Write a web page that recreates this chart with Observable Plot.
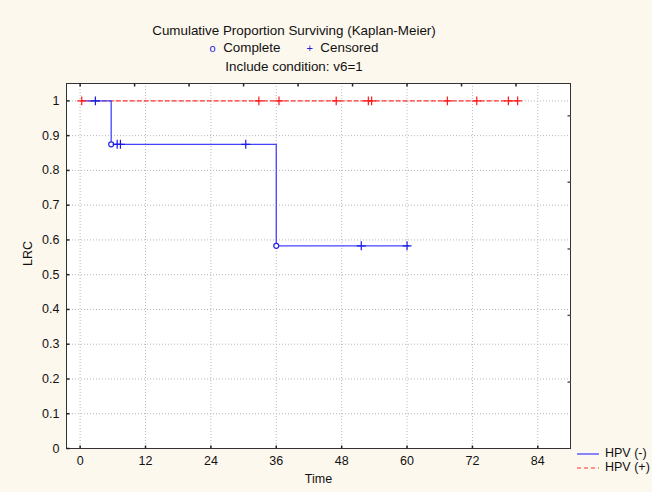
<!DOCTYPE html>
<html><head><meta charset="utf-8">
<script src="https://cdn.jsdelivr.net/npm/d3@7"></script>
<script src="https://cdn.jsdelivr.net/npm/@observablehq/plot@0.6"></script>
<style>
body{margin:0;background:#fdf8ee;font-family:Arial,"Liberation Sans",sans-serif;color:#111}
#wrap{position:relative;width:652px;height:492px;overflow:hidden}
.t{position:absolute;left:0;width:588px;text-align:center;font-size:13.4px;line-height:16px;white-space:nowrap}
.leg{position:absolute;left:577px;font-size:12.5px;line-height:14px;white-space:nowrap}
.leg svg{vertical-align:middle;margin-right:6px}
#plot{position:absolute;left:0;top:0}
</style></head>
<body><div id="wrap">
<div class="t" style="top:23px">Cumulative Proportion Surviving (Kaplan-Meier)</div>
<div class="t" style="top:40px"><span style="color:#2222dd;font-size:11px">o</span>&nbsp;&nbsp;Complete &nbsp;&nbsp;&nbsp;&nbsp;&nbsp;&nbsp;<span style="color:#2222dd;font-size:11px">+</span>&nbsp;&nbsp;Censored</div>
<div class="t" style="top:59px">Include condition: v6=1</div>
<div id="plot"></div>
<div class="leg" style="top:446px"><svg width="22" height="4"><line x1="0" x2="22" y1="2" y2="2" stroke="#4444ff" stroke-width="1.3"/></svg>HPV (-)</div>
<div class="leg" style="top:460px"><svg width="22" height="4"><line x1="0" x2="22" y1="2" y2="2" stroke="#ff3030" stroke-width="1.2" stroke-dasharray="4,3"/></svg>HPV (+)</div>
</div>
<script>
// HPV (-) step curve
const negTimes = [1.0, 5.7, 36.0, 60.3];
const negSurv = [1, 0.875, 0.583, 0.583];
const negEventTimes = [5.7, 36.0];
const negEventSurv = [0.875, 0.583];
const negCensorTimes = [2.8, 6.8, 7.4, 30.4, 51.6, 60.0];
const negCensorSurv = [1, 0.875, 0.875, 0.875, 0.583, 0.583];
// HPV (+) curve
const posTimes = [0.2, 80.3];
const posSurv = [1, 1];
const posCensorTimes = [0.3, 32.8, 36.5, 47.0, 52.9, 53.5, 67.4, 72.8, 78.6, 80.3];
const posCensorSurv = [1, 1, 1, 1, 1, 1, 1, 1, 1, 1];
// ticks
const xTicks = [0, 12, 24, 36, 48, 60, 72, 84];
const yTicks = [0, 0.1, 0.2, 0.3, 0.4, 0.5, 0.6, 0.7, 0.8, 0.9, 1];
const topTicks = [0, 10, 20, 30, 40, 50, 60, 70, 80];
const rightTicks = [0.191, 0.383, 0.574, 0.766, 0.957];

const zip = (a, b) => a.map((v, i) => ({t: v, s: b[i]}));
const tk = (dx, dy) => ({draw(ctx) { ctx.moveTo(0, 0); ctx.lineTo(dx, dy); }});

const chart = Plot.plot({
  width: 652, height: 492,
  marginLeft: 66, marginRight: 82, marginTop: 83, marginBottom: 44,
  style: {background: "transparent", fontSize: "12.5px", fontFamily: "Arial, 'Liberation Sans', sans-serif", color: "#111"},
  x: {domain: [-2.5, 90]},
  y: {domain: [0, 1.05]},
  marks: [
    Plot.frame({fill: "white", stroke: "none"}),
    Plot.gridX(xTicks, {stroke: "#b8b8b8", strokeOpacity: 1, strokeDasharray: "1,2"}),
    Plot.gridY(yTicks, {stroke: "#b8b8b8", strokeOpacity: 1, strokeDasharray: "1,2"}),
    Plot.frame({stroke: "#333"}),
    Plot.dot(yTicks, {y: d => d, frameAnchor: "left", symbol: tk(3, 0), fill: "none", stroke: "#222"}),
    Plot.dot(xTicks, {x: d => d, frameAnchor: "bottom", symbol: tk(0, -3), fill: "none", stroke: "#222"}),
    Plot.dot(topTicks, {x: d => d, frameAnchor: "top", symbol: tk(0, 3), fill: "none", stroke: "#222"}),
    Plot.dot(rightTicks, {y: d => d, frameAnchor: "right", symbol: tk(-3, 0), fill: "none", stroke: "#555", strokeWidth: 1.5}),
    Plot.axisX(xTicks, {tickSize: 0, tickPadding: 8, label: null}),
    Plot.axisY(yTicks, {tickSize: 0, tickPadding: 7, label: null, tickFormat: d => String(d)}),
    Plot.text(["Time"], {frameAnchor: "bottom", dy: 34}),
    Plot.text(["LRC"], {frameAnchor: "left", dx: -39, rotate: -90}),
    Plot.line(zip(posTimes, posSurv), {x: "t", y: "s", stroke: "#ff3030", strokeWidth: 1.2, strokeDasharray: "4,3"}),
    Plot.line(zip(negTimes, negSurv), {x: "t", y: "s", curve: "step-after", stroke: "#4444ff", strokeWidth: 1.3}),
    Plot.dot(zip(negEventTimes, negEventSurv), {x: "t", y: "s", r: 2.5, fill: "white", stroke: "#2222ee", strokeWidth: 1.2}),
    Plot.dot(zip(negCensorTimes, negCensorSurv), {x: "t", y: "s", symbol: "plus", r: 3, stroke: "#1a1ae0", strokeWidth: 1.2}),
    Plot.dot(zip(posCensorTimes, posCensorSurv), {x: "t", y: "s", symbol: "plus", r: 3, stroke: "#ff1a1a", strokeWidth: 1.2})
  ]
});
document.getElementById("plot").append(chart);
</script>
</body></html>
